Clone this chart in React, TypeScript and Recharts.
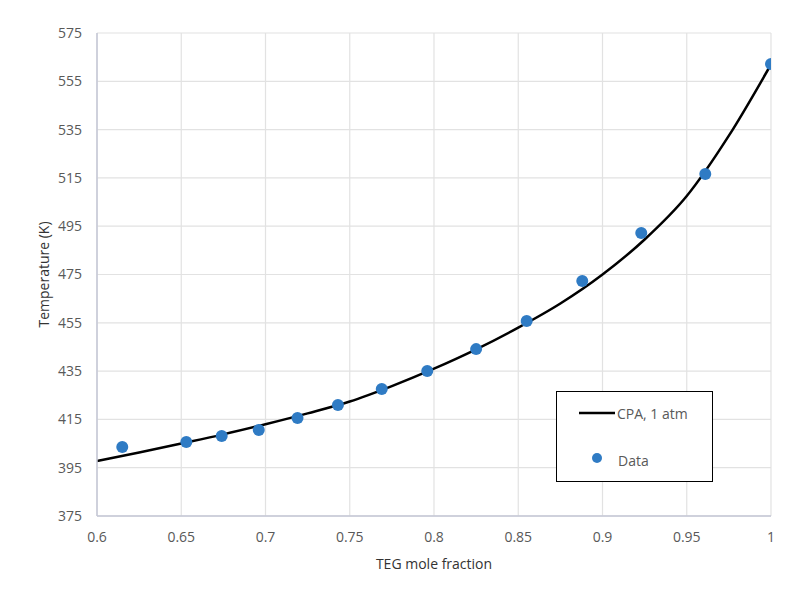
import { ComposedChart, Line, Scatter, XAxis, YAxis, CartesianGrid, Legend, Label, Customized } from 'recharts'

// CPA model curve
const curveX = [0.6, 0.625, 0.65, 0.675, 0.7, 0.725, 0.75, 0.775, 0.8, 0.825, 0.85, 0.875, 0.9, 0.925, 0.95, 0.975, 1.0]
const curveT = [397.8, 401.3, 405, 408.8, 413, 417.5, 422.4, 428.8, 436, 444, 453, 463, 475, 489.5, 507.5, 532.5, 562]

// experimental points
const dataX = [0.615, 0.653, 0.674, 0.696, 0.719, 0.743, 0.769, 0.796, 0.825, 0.855, 0.888, 0.923, 0.961, 1.0]
const dataT = [403.6, 405.6, 408.1, 410.6, 415.6, 421, 427.6, 435, 444.1, 455.7, 472.3, 492.2, 516.6, 562.2]

const xTicks = [0.6, 0.65, 0.7, 0.75, 0.8, 0.85, 0.9, 0.95, 1]
const yTicks = [375, 395, 415, 435, 455, 475, 495, 515, 535, 555, 575]

const curve = curveX.map((x, i) => ({ x, t: curveT[i] }))
const points = dataX.map((x, i) => ({ x, t: dataT[i] }))

const tickStyle = { fill: '#595959', fontSize: 14, fontFamily: 'Open Sans' }
const DOT = '#2f7bc4'

function Dot(props: any) {
  const { cx, cy } = props
  if (cx == null || cy == null) return null
  return <circle cx={cx} cy={cy} r={6} fill={DOT} />
}

function YTitle({ viewBox }: any) {
  const x = viewBox.x + 16
  const y = viewBox.y + viewBox.height / 2
  return (
    <text x={x} y={y} transform={`rotate(-90, ${x}, ${y})`} textAnchor="middle" dominantBaseline="central"
      fill="#333" fontSize={14} fontFamily="Open Sans">
      Temperature (K)
    </text>
  )
}

// outer frame of the original screenshot (top and left edges only)
function Frame() {
  return (
    <g>
      <line x1={7} y1={7} x2={791} y2={7} stroke="#4a4a4a" strokeWidth={2} />
      <line x1={7} y1={7} x2={7} y2={594} stroke="#4a4a4a" strokeWidth={2} />
    </g>
  )
}

function LegendBox() {
  return (
    <div style={{ width: 157, height: 91, border: '1.5px solid #000', boxSizing: 'border-box', background: '#fff' }}>
      <svg width={154} height={88} style={{ display: 'block' }}>
        <line x1={22} y1={21} x2={58} y2={21} stroke="#000" strokeWidth={2.5} />
        <text x={60} y={21} dominantBaseline="central" fill="#595959" fontSize={14} fontFamily="Open Sans">CPA, 1 atm</text>
        <circle cx={40} cy={66} r={5} fill={DOT} />
        <text x={61} y={68} dominantBaseline="central" fill="#595959" fontSize={14} fontFamily="Open Sans">Data</text>
      </svg>
    </div>
  )
}

export default function App() {
  return (
    <div style={{ position: 'relative', margin: -8, width: 791, height: 594, background: '#fff', fontFamily: 'Open Sans', overflow: 'hidden' }}>
      <ComposedChart width={791} height={594} margin={{ top: 33, right: 20, bottom: 18, left: 27 }}>
        <CartesianGrid stroke="#e2e2e2" strokeWidth={1.2} />
        <XAxis dataKey="x" type="number" domain={[0.6, 1]} ticks={xTicks} allowDataOverflow
          tick={tickStyle} tickLine={false} tickMargin={10} height={60} stroke="#c5c7d6" strokeWidth={1.5}>
          <Label value="TEG mole fraction" position="insideBottom" offset={7} fill="#333" fontSize={14} fontFamily="Open Sans" />
        </XAxis>
        <YAxis dataKey="t" type="number" domain={[375, 575]} ticks={yTicks} allowDataOverflow
          tick={tickStyle} tickLine={false} tickMargin={9} width={70} stroke="#c5c7d6" strokeWidth={1.5}
          label={<YTitle />} />
        <Line data={curve} dataKey="t" type="monotone" stroke="#000" strokeWidth={2.5} dot={false}
          isAnimationActive={false} name="CPA, 1 atm" />
        <Scatter data={points} dataKey="t" fill={DOT} shape={<Dot />} isAnimationActive={false} name="Data" />
        <Legend content={<LegendBox />} layout="vertical" verticalAlign="middle" align="center"
          wrapperStyle={{ position: 'absolute', left: 556, top: 391, width: 157, height: 91 }} />
        <Customized component={<Frame />} />
      </ComposedChart>
    </div>
  )
}
